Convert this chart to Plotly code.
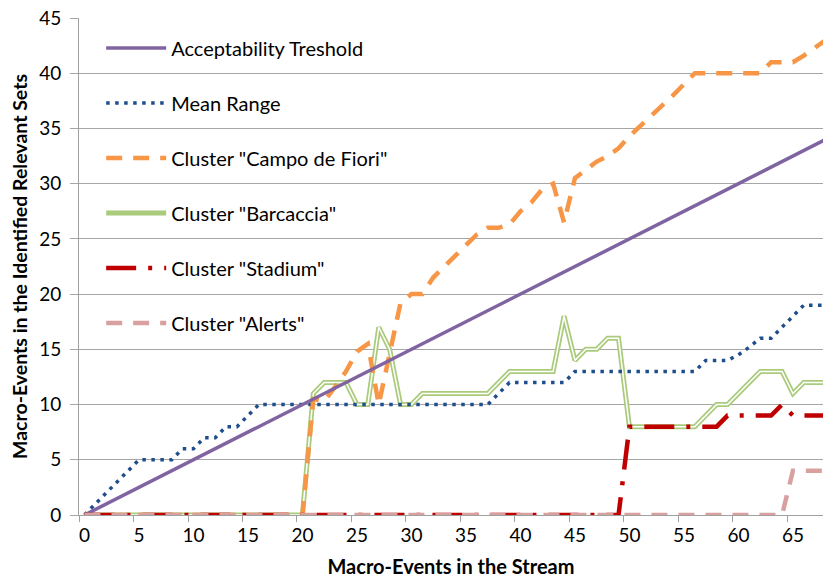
import plotly.graph_objects as go

# ---------------- data ----------------
events = list(range(0, 69))

threshold = [0, 0.5, 1, 1.5, 2, 2.5, 3, 3.5, 4, 4.5, 5, 5.5, 6, 6.5, 7, 7.5, 8, 8.5, 9, 9.5,
             10, 10.5, 11, 11.5, 12, 12.5, 13, 13.5, 14, 14.5, 15, 15.5, 16, 16.5, 17, 17.5,
             18, 18.5, 19, 19.5, 20, 20.5, 21, 21.5, 22, 22.5, 23, 23.5, 24, 24.5, 25, 25.5,
             26, 26.5, 27, 27.5, 28, 28.5, 29, 29.5, 30, 30.5, 31, 31.5, 32, 32.5, 33, 33.5, 34]

mean_range = [0, 1, 2, 3, 4, 5, 5, 5, 5, 6, 6, 7, 7, 8, 8, 9,
              10, 10, 10, 10, 10, 10, 10, 10, 10, 10, 10, 10, 10, 10, 10, 10, 10, 10, 10, 10, 10, 10,
              11, 12, 12, 12, 12, 12, 12,
              13, 13, 13, 13, 13, 13, 13, 13, 13, 13, 13, 13,
              14, 14, 14, 14.5, 15.2, 16, 16, 17, 18, 19, 19, 19]

campo = [0] * 21 + [10.5, 10.3, 11.6, 13, 14.8, 15.5, 10, 14.5, 19.2, 20, 20,
                    21.5, 22.5, 23.4, 24.4, 25.4, 26, 26, 26.3, 27.5, 28.3, 29.5, 30, 26.5,
                    30.5, 31.2, 32, 32.5, 33.2, 34.3, 35.2, 36.2, 37, 38, 39,
                    40, 40, 40, 40, 40, 40, 40, 41, 41, 41, 41.6, 42.3, 43]

barcaccia = [0] * 21 + [11, 12, 12, 12, 10, 10, 17, 15, 10, 10,
                        11, 11, 11, 11, 11, 11, 11, 12, 13, 13, 13, 13, 13, 18, 14, 15, 15, 16, 16,
                        8, 8, 8, 8, 8, 8, 8, 9, 10, 10, 11, 12, 13, 13, 13, 11, 12, 12, 12]

stadium = [0] * 50 + [8, 8, 8, 8, 8, 8, 8, 8, 8, 9, 9, 9, 9, 9, 10, 9, 9, 9, 9]

alerts = [0] * 65 + [4, 4, 4, 4]

x_tick_vals = list(range(0, 70, 5))
y_tick_vals = list(range(0, 50, 5))

FONT = "Lato"

fig = go.Figure()

# green compound line (outer green + white core)
fig.add_trace(go.Scatter(x=events, y=barcaccia, mode="lines", name='Cluster "Barcaccia"',
                         line=dict(color="#AACB7C", width=5), legendgroup="g4", legendrank=4))
fig.add_trace(go.Scatter(x=events, y=barcaccia, mode="lines", showlegend=False,
                         line=dict(color="white", width=1.5), legendgroup="g4", hoverinfo="skip"))
fig.add_trace(go.Scatter(x=events, y=mean_range, mode="lines", name="Mean Range",
                         line=dict(color="#1F4E8C", width=3.5, dash="3.5px,5.5px"),
                         legendgroup="g2", legendrank=2))
fig.add_trace(go.Scatter(x=events, y=campo, mode="lines", name='Cluster "Campo de Fiori"',
                         line=dict(color="#F79646", width=4.5, dash="16px,11px"),
                         legendgroup="g3", legendrank=3))
fig.add_trace(go.Scatter(x=events, y=threshold, mode="lines", name="Acceptability Treshold",
                         line=dict(color="#8064A2", width=3.5), legendgroup="g1", legendrank=1))
fig.add_trace(go.Scatter(x=events, y=stadium, mode="lines", name='Cluster "Stadium"',
                         line=dict(color="#C00000", width=4.5, dash="30px,12px,4px,12px"),
                         legendgroup="g5", legendrank=5))
fig.add_trace(go.Scatter(x=events, y=alerts, mode="lines", name='Cluster "Alerts"',
                         line=dict(color="#D9A0A0", width=4.5, dash="16px,11px"),
                         legendgroup="g6", legendrank=6))

fig.update_layout(
    width=823, height=578,
    margin=dict(l=79, r=0, t=18, b=63, autoexpand=False),
    plot_bgcolor="white", paper_bgcolor="white",
    font=dict(family=FONT, size=19, color="#000000"),
    showlegend=True,
    legend=dict(x=0.0298, y=0.979, xanchor="left", yanchor="top",
                bgcolor="rgba(255,255,255,0)", font=dict(family=FONT, size=20, color="#000000"),
                tracegroupgap=26, itemwidth=60),
    xaxis=dict(
        range=[-0.5, 67.76], tickmode="array", tickvals=x_tick_vals,
        ticktext=[str(v) for v in x_tick_vals], automargin=False,
        showgrid=False, zeroline=False, showline=True, linecolor="#A0A0A0", linewidth=1,
        ticks="outside", ticklen=3, tickcolor="rgba(0,0,0,0)",
        minor=dict(tickvals=[v - 0.5 for v in x_tick_vals], ticks="outside", ticklen=6,
                   tickcolor="#A0A0A0", showgrid=False),
        title=dict(text="<b>Macro-Events in the Stream</b>", font=dict(family=FONT, size=20), standoff=17),
        tickfont=dict(family=FONT, size=19),
    ),
    yaxis=dict(
        range=[0, 45], tickmode="array", tickvals=y_tick_vals, automargin=False,
        showgrid=True, gridcolor="#A6A6A6", gridwidth=1, zeroline=False,
        showline=True, linecolor="#A0A0A0", linewidth=1,
        ticks="outside", ticklen=8, tickcolor="#A6A6A6", ticklabelstandoff=5,
        title=dict(text="<b>Macro-Events in the Identified Relevant Sets</b>",
                   font=dict(family=FONT, size=19.5), standoff=6),
        tickfont=dict(family=FONT, size=19),
    ),
)

fig.write_html("out.html", config={"displayModeBar": False},
               post_script="document.body.style.margin='0px';")
